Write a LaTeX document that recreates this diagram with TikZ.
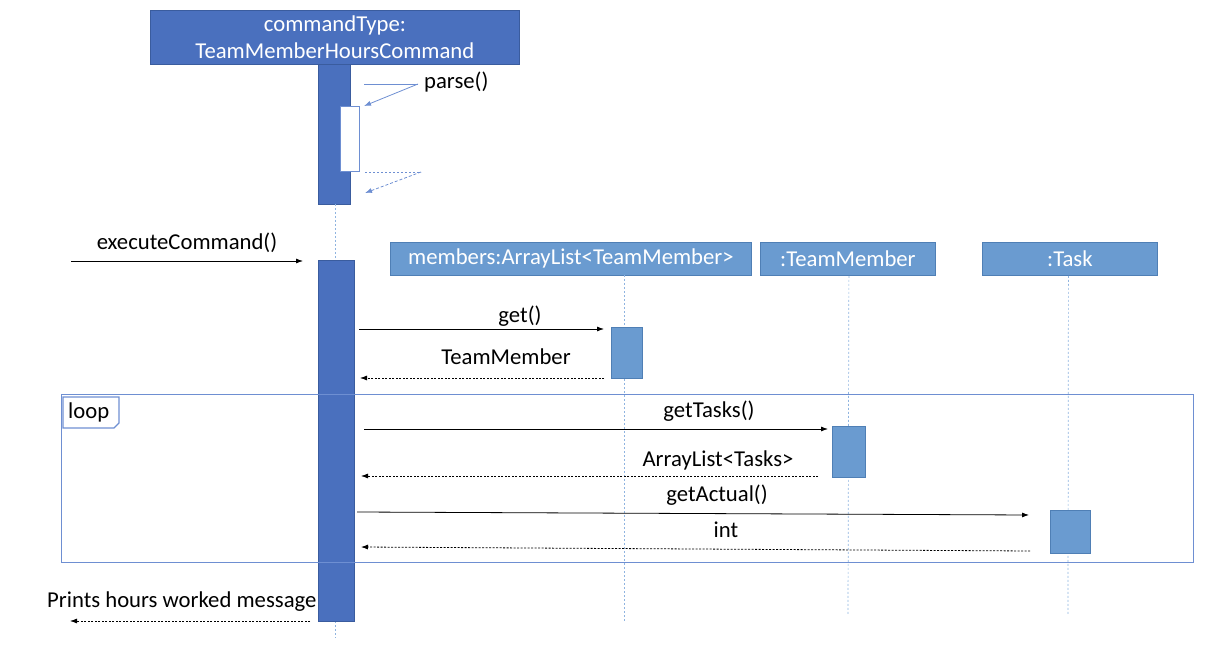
\documentclass[tikz,border=0pt]{standalone}
\usepackage{fontspec}
\setmainfont{Carlito}
\usetikzlibrary{arrows.meta}
\definecolor{darkblue}{HTML}{4A70BE}
\definecolor{darkedge}{HTML}{3A5C9E}
\definecolor{lightblue}{HTML}{6A9BD0}
\definecolor{lightedge}{HTML}{4F7FB5}
\definecolor{lifeblue}{HTML}{8FB4E0}
\definecolor{frameblue}{HTML}{6E8FD2}
\tikzset{
  headbox/.style={draw=darkedge, fill=darkblue, text=white, line width=0.8pt},
  objbox/.style={draw=lightedge, fill=lightblue, text=white, line width=0.8pt, font=\fontsize{22.7}{25}\selectfont},
  actbar/.style={draw=darkedge, fill=darkblue, line width=0.8pt},
  actsmall/.style={draw=lightedge, fill=lightblue, line width=0.8pt},
  lifeline/.style={draw=lifeblue, line width=0.7pt, dash pattern=on 2pt off 2pt},
  call/.style={draw=black, line width=0.8pt, -{Latex[length=7pt,width=5pt]}},
  reply/.style={draw=black, line width=0.8pt, dash pattern=on 2pt off 1.5pt, -{Latex[length=7pt,width=5pt]}},
  msg/.style={font=\fontsize{22.7}{25}\selectfont, text=black, inner sep=0pt},
  selfcall/.style={draw=frameblue, line width=0.8pt},
}
\begin{document}
\begin{tikzpicture}[x=1pt,y=-1pt]
\useasboundingbox (0,0) rectangle (1216,671);

% header of the command object
\node[headbox, minimum width=369pt, minimum height=54pt, anchor=north west, align=center,
      font=\fontsize{22.7}{26.5}\selectfont, inner sep=0pt] (cmd) at (150,10)
  {commandType:\\TeamMemberHoursCommand};

% first activation with the nested parse() call
\node[actbar, minimum width=32pt, minimum height=140pt, anchor=north west, inner sep=0pt] (bar1) at (318,64) {};
\node[draw=frameblue, fill=white, line width=0.8pt, minimum width=19pt, minimum height=65pt, anchor=north west, inner sep=0pt] (inner) at (340,106) {};
\coordinate (p1) at (364,84);
\coordinate (p2) at (418,84);
\coordinate (p3) at (364,106);
\draw[selfcall] (p1) -- (p2);
\draw[selfcall, -{Latex[length=7pt,width=5pt]}] (p2) -- (p3);
\node[msg, anchor=west] (parselbl) at (424,82) {parse()};
\coordinate (r1) at (365,172);
\coordinate (r2) at (421,172);
\coordinate (r3) at (365,193);
\draw[selfcall, dash pattern=on 2pt off 2pt] (r1) -- (r2);
\draw[selfcall, dash pattern=on 3pt off 2pt, -{Latex[length=7pt,width=5pt]}] (r2) -- (r3);

% lifeline of the command object
\coordinate (cl1) at (335,204);
\coordinate (cl2) at (335,260);
\coordinate (cl3) at (335,621);
\coordinate (cl4) at (335,638);
\draw[lifeline] (cl1) -- (cl2);
\draw[lifeline] (cl3) -- (cl4);

% main activation
\node[actbar, minimum width=36pt, minimum height=361pt, anchor=north west, inner sep=0pt] (bar2) at (318,260) {};

% executeCommand()
\coordinate (ex1) at (71,261);
\coordinate (ex2) at (303,261);
\draw[call] (ex1) -- (ex2);
\node[msg] (exlbl) at (187,243) {executeCommand()};

% participant objects
\node[objbox, minimum width=361pt, minimum height=33pt, anchor=north west, inner sep=0pt] (members) at (390,242) {members:ArrayList<TeamMember>};
\node[objbox, minimum width=175pt, minimum height=33pt, anchor=north west, inner sep=0pt] (member) at (760,242) {:TeamMember};
\node[objbox, minimum width=175pt, minimum height=33pt, anchor=north west, inner sep=0pt] (task) at (982,242) {:Task};

% lifelines of the participants
\coordinate (ml) at (624,621);
\coordinate (tl) at (848,615);
\coordinate (kl) at (1068,615);
\draw[lifeline] (624,275) -- (ml);
\draw[lifeline] (member.south) ++(1,0) -- (tl);
\draw[lifeline] (task.south) ++(-1.5,0) -- (kl);

% get() / TeamMember
\node[actsmall, minimum width=31pt, minimum height=51pt, anchor=north west, inner sep=0pt] (act1) at (611,327) {};
\coordinate (g1) at (359,329);
\coordinate (g2) at (604,329);
\draw[call] (g1) -- (g2);
\node[msg] (getlbl) at (520,316) {get()};
\coordinate (t1) at (604,378);
\coordinate (t2) at (360,378);
\draw[reply] (t1) -- (t2);
\node[msg] (tmlbl) at (506,357) {TeamMember};

% loop frame
\node[draw=frameblue, line width=1.1pt, minimum width=1132pt, minimum height=168pt, anchor=north west, inner sep=0pt] (loop) at (61,394) {};
\node[msg, anchor=west] (looplbl) at (68,412) {loop};
\draw[draw=frameblue, line width=1.1pt] (63,397) -- (119,397) -- (119,423) -- (114,428) -- (63,428) -- cycle;

% getTasks() / ArrayList<Tasks>
\node[actsmall, minimum width=33pt, minimum height=51pt, anchor=north west, inner sep=0pt] (act2) at (832,426) {};
\coordinate (gt1) at (364,429);
\coordinate (gt2) at (828,429);
\draw[call] (gt1) -- (gt2);
\node[msg] (gtlbl) at (709,411) {getTasks()};
\coordinate (at1) at (818,476);
\coordinate (at2) at (361,476);
\draw[reply] (at1) -- (at2);
\node[msg] (atlbl) at (718,460) {ArrayList<Tasks>};

% getActual() / int
\node[actsmall, minimum width=40pt, minimum height=43pt, anchor=north west, inner sep=0pt] (act3) at (1050,510) {};
\coordinate (ga1) at (357,512);
\coordinate (ga2) at (1029,515);
\draw[call] (ga1) -- (ga2);
\node[msg] (galbl) at (717,495) {getActual()};
\coordinate (in1) at (1030,551);
\coordinate (in2) at (361,547);
\draw[reply] (in1) -- (in2);
\node[msg] (inlbl) at (726,530) {int};

% final output
\node[msg, anchor=west] (prlbl) at (47,602) {Prints hours worked message};
\coordinate (pr1) at (310,621);
\coordinate (pr2) at (70,621);
\draw[reply] (pr1) -- (pr2);
\end{tikzpicture}
\end{document}
